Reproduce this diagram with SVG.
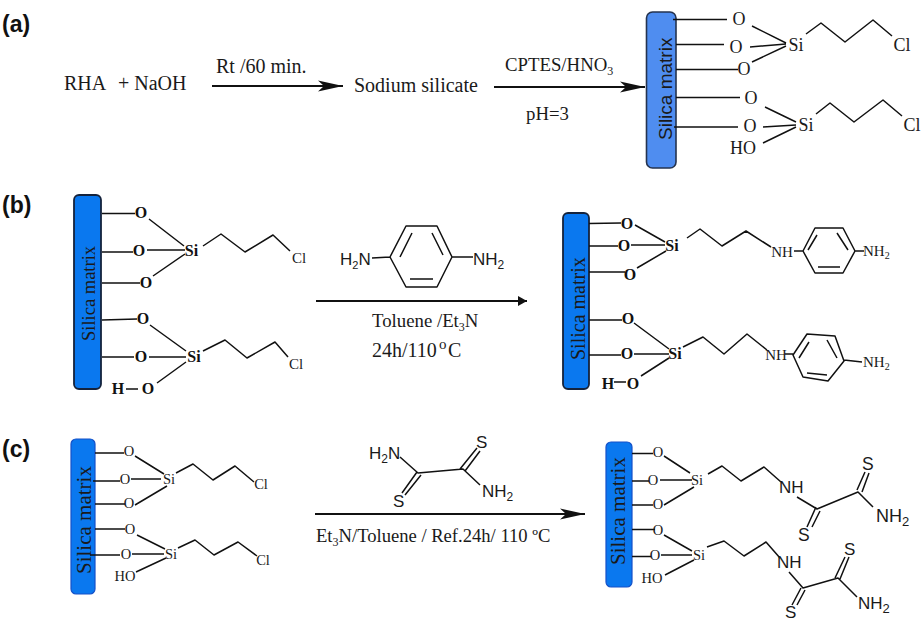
<svg xmlns="http://www.w3.org/2000/svg" width="922" height="624" viewBox="0 0 922 624">
<style>
text{font-family:"Liberation Serif",serif;fill:#1a1a1a}
.s{font-family:"Liberation Sans",sans-serif}
.lab{font-family:"Liberation Sans",sans-serif;font-weight:700;font-size:23px;fill:#111}
.t{font-size:20px}
.r{font-size:18.8px}
.m{text-anchor:middle;font-size:18px}
.n{text-anchor:middle;font-size:14.5px}
.c{text-anchor:middle;font-size:15px}
.b{font-weight:700;text-anchor:middle;font-size:16px;fill:#111}
.l{fill:none;stroke:#111;stroke-width:1.5;stroke-linejoin:round}
.a{fill:none;stroke:#111;stroke-width:1.8}
.mat{fill:#0a78ef;stroke:#15233c;stroke-width:1.8}
</style>
<defs>
<marker id="h" markerUnits="userSpaceOnUse" markerWidth="26" markerHeight="13" refX="25" refY="6.5" orient="auto"><path d="M0 1L25 6.5L0 12L6 6.5Z" fill="#111"/></marker>
<marker id="h2" markerUnits="userSpaceOnUse" markerWidth="10" markerHeight="12" refX="9" refY="6" orient="auto"><path d="M0 1L9 6L0 11Z" fill="#111"/></marker>
</defs>
<text class="lab" x="2" y="32">(a)</text>
<text class="lab" x="2" y="213">(b)</text>
<text class="lab" x="2" y="457">(c)</text>

<g id="connectors">
<path class="a" d="M212 86H343" marker-end="url(#h)"/>
<path class="a" d="M494 87H645" marker-end="url(#h)"/>
<path class="a" d="M316 301H527" marker-end="url(#h2)"/>
<path class="a" d="M315 514H585" marker-end="url(#h)"/>
</g>

<g id="reaction-a-text">
<text class="t" x="64" y="90">RHA</text><text class="t" x="118" y="90">+ NaOH</text>
<text class="t" x="216" y="73">Rt /60 min.</text>
<text class="t" x="354" y="92">Sodium silicate</text>
<text class="r" x="505" y="71">CPTES/HNO<tspan dy="4" font-size="12">3</tspan></text>
<text class="r" x="526" y="120">pH=3</text>
</g>

<g id="a-product">
<rect x="646.5" y="12" width="29.5" height="156" rx="6" fill="#4f8df0" stroke="#25334f" stroke-width="1.6"/>
<text class="s" transform="translate(672 140) rotate(-90)" font-size="19">Silica matrix</text>
<path class="l" d="M673 19.5H727M676 44.5H724M676 69.5H738M676 97.5H740M674 127H738M752 26L786 43M750 47L786 44M752 62L786 46M806 34L821 23L845 42L873 20L892 36M765 107L796 122M763 127L796 125M763 143L796 127M816 114L830 103L854 122L883 100L902 116"/>
<text class="m" x="739" y="25">O</text><text class="m" x="736" y="53">O</text><text class="m" x="744" y="75">O</text><text class="m" x="751" y="104">O</text><text class="m" x="750" y="132">O</text>
<text class="m" x="796" y="51">Si</text><text class="m" x="806" y="131">Si</text>
<text class="m" x="902" y="51">Cl</text><text class="m" x="912" y="131">Cl</text><text class="m" x="743" y="154">HO</text>
</g>

<g id="b-reactant">
<rect x="74" y="195" width="27" height="194" rx="5" class="mat"/>
<text transform="translate(95 341) rotate(-90)" font-size="18.5">Silica matrix</text>
<path class="l" d="M102 213.5H135M102 252H133M102 283H140M102 320L137 319M102 357H134M149 219L184 246M147 250H185M153 276L185 254M203 246L221 234L245 252L273 235L290 251M150 325L186 351M149 357H186M157 383L186 362M203 351L225 340L247 358L275 342L288 357M126 389H138"/>
<text class="b" x="141" y="218">O</text><text class="b" x="139" y="256">O</text><text class="b" x="146" y="288">O</text><text class="b" x="143" y="324">O</text><text class="b" x="141" y="362">O</text><text class="b" x="148" y="394">O</text><text class="b" x="118" y="394">H</text>
<text class="b" x="191.5" y="256">Si</text><text class="b" x="194" y="362">Si</text>
<text class="c" x="299" y="263">Cl</text><text class="c" x="296" y="369">Cl</text>
</g>

<g id="b-reagent">
<path class="l" d="M390 257L406 226H437L452 257L437 287H406ZM400 257L412 233M432 233L443 255M410 279H433M372 258L390 257M452 257H473"/>
<text class="s" x="340" y="265" font-size="17">H<tspan dy="4" font-size="11">2</tspan><tspan dy="-4">N</tspan></text>
<text class="s" x="473" y="265" font-size="17">NH<tspan dy="4" font-size="12">2</tspan></text>
<text class="r" x="372" y="327">Toluene /Et<tspan dy="4" font-size="12">3</tspan><tspan dy="-4">N</tspan></text>
<text class="t" x="372" y="357">24h/110</text><text x="439" y="349" font-size="15">o</text><text class="t" x="448" y="357">C</text>
</g>

<g id="b-product">
<rect x="563" y="213" width="26" height="176" rx="5" class="mat"/>
<text transform="translate(585 360) rotate(-90)" font-size="20">Silica matrix</text>
<path class="l" d="M589 223.5L621 223M589 246H618M589 272H625M589 320H622M589 355H621M635 225L665 242M631 245H665M637 268L666 251M634 323L669 349M634 354H669M641 376L669 358M687 238L700 229L722 246L746 231L771 247M794 251H803M803 251L815 228H843L855 251L843 273H815ZM808 250L817 235M837 233L848 250M818 267H840M855 251H864M683 347L703 337L724 354L747 334L767 350M785 354H793M793 355L807 334L835 336L844 361L828 381L803 377ZM799 358L809 342M827 340L837 358M807 373L827 375M844 360L862 362M614 382H626"/>
<text class="b" x="627" y="228.5">O</text><text class="b" x="624" y="251">O</text><text class="b" x="630" y="279.5">O</text><text class="b" x="628" y="324">O</text><text class="b" x="627" y="359">O</text><text class="b" x="633" y="388.5">O</text><text class="b" x="608" y="388.5">H</text>
<text class="b" x="672" y="250.5">Si</text><text class="b" x="675" y="359">Si</text>
<text class="c" x="782" y="257">NH</text><text class="c" x="776" y="360">NH</text>
<text x="863" y="256" font-size="15">NH<tspan dy="3" font-size="10">2</tspan></text>
<text x="863" y="367" font-size="15">NH<tspan dy="3" font-size="10">2</tspan></text>
</g>

<g id="c-reactant">
<rect x="71" y="439" width="24" height="155" rx="5" fill="#0a78ef" stroke="#1450c8" stroke-width="1.2"/>
<text transform="translate(90.5 574) rotate(-90)" font-size="21">Silica matrix</text>
<path class="l" d="M95 453H124M93 481H120M95 504H125M95 529H125M90 555H120M135 456L164 474M131 479H161M135 505L167 486M137 535L165 549M132 554H164M136 572L166 558M176 473L193 464L213 480L235 466L254 482M178 548L195 540L214 555L238 542L257 556" stroke-width="1.3"/>
<text class="n" x="129" y="456">O</text><text class="n" x="125" y="484">O</text><text class="n" x="129" y="508">O</text><text class="n" x="130" y="534">O</text><text class="n" x="126" y="559">O</text>
<text class="n" x="169" y="484">Si</text><text class="n" x="171" y="559">Si</text>
<text class="n" x="261" y="489">Cl</text><text class="n" x="263" y="565">Cl</text><text class="n" x="125" y="581">HO</text>
</g>

<g id="c-reagent">
<path class="l" d="M400 457L418 473L463 469L480 485M460 469L477 448M465 471L480 451M417 472L402 493M421 475L405 495"/>
<text class="s" x="369" y="459" font-size="17">H<tspan dy="4" font-size="12">2</tspan><tspan dy="-4">N</tspan></text>
<text class="s" x="482" y="497" font-size="17">NH<tspan dy="4" font-size="12">2</tspan></text>
<text class="s" x="476" y="448" font-size="17">S</text>
<text class="s" x="393" y="507" font-size="17">S</text>
<text x="316" y="542" font-size="18.6">Et<tspan dy="4" font-size="12">3</tspan><tspan dy="-4">N/Toluene / Ref.24h/ 110 ºC</tspan></text>
</g>

<g id="c-product">
<rect x="606" y="442" width="26" height="145" rx="5" fill="#0a78ef" stroke="#1450c8" stroke-width="1.2"/>
<text transform="translate(625 565) rotate(-90)" font-size="21">Silica matrix</text>
<path class="l" d="M632 453.5H653M632 481H649M632 505H653M632 529.5H655M632 556.5H651M664 456L690 473M660 480H692M664 505L694 487M664 535L692 551M661 555H692M665 575L694 560M708 474L722 466L741 481L764 467L781 482M797 497L817 509L858 492L873 507M857 490L865 472M862 492L869 473M816 507L807 527M820 511L812 527M707 547L724 541L744 556L766 542L780 558M789 572L803 588L838 578L857 597M835 578L845 557M840 579L849 557M801 588L792 605M805 590L797 605" stroke-width="1.3"/>
<text class="n" x="658" y="457">O</text><text class="n" x="653" y="485">O</text><text class="n" x="658" y="509">O</text><text class="n" x="658" y="535">O</text><text class="n" x="655" y="560">O</text>
<text class="n" x="697" y="485">Si</text><text class="n" x="699" y="560">Si</text><text class="n" x="652" y="583">HO</text>
<text class="s" x="779" y="493" font-size="17">NH</text>
<text class="s" x="862" y="470" font-size="17.5">S</text>
<text class="s" x="798" y="541" font-size="17.5">S</text>
<text class="s" x="876" y="522" font-size="18">NH<tspan dy="4" font-size="13">2</tspan></text>
<text class="s" x="777" y="568" font-size="17">NH</text>
<text class="s" x="844" y="555" font-size="17">S</text>
<text class="s" x="785" y="618" font-size="17">S</text>
<text class="s" x="858" y="609" font-size="17">NH<tspan dy="4" font-size="13">2</tspan></text>
</g>
</svg>
